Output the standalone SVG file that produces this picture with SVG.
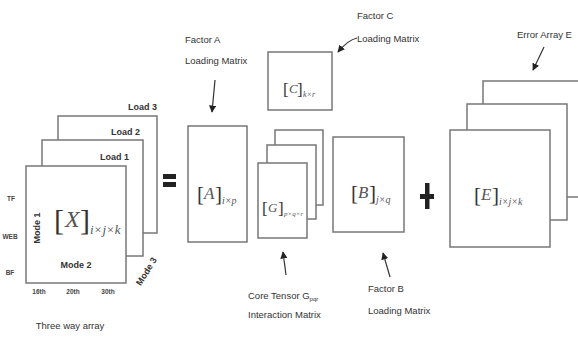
<svg xmlns="http://www.w3.org/2000/svg" width="578" height="346" viewBox="0 0 578 346">
<defs>
<style>
.box{fill:#fff;stroke:#777;stroke-width:1.5}
.lbl{font-family:"Liberation Sans",Arial,sans-serif;font-size:9.5px;fill:#333}
.tick{font-family:"Liberation Sans",Arial,sans-serif;font-size:6.5px;font-weight:bold;fill:#444}
.bold{font-family:"Liberation Sans",Arial,sans-serif;font-size:9px;font-weight:bold;fill:#333}
.m{font-family:"Liberation Serif","Times New Roman",serif;fill:#333}
.mi{font-family:"Liberation Serif","Times New Roman",serif;font-style:italic;fill:#555}
.arr{stroke:#333;stroke-width:1.2;fill:none;marker-end:url(#ah)}
</style>
<marker id="ah" viewBox="0 0 10 10" refX="9" refY="5" markerWidth="6" markerHeight="6" orient="auto-start-reverse">
<path d="M0,0 L10,5 L0,10 z" fill="#222"/>
</marker>
</defs>
<rect width="578" height="346" fill="#fff"/>

<g id="tensor-x">
<rect class="box" x="58" y="116" width="99" height="117"/>
<rect class="box" x="42" y="140" width="101" height="116"/>
<rect class="box" x="26" y="166" width="100" height="117"/>
<text class="bold" x="157" y="110" text-anchor="end">Load 3</text>
<text class="bold" x="140" y="135" text-anchor="end">Load 2</text>
<text class="bold" x="129" y="160" text-anchor="end">Load 1</text>
<text class="m" x="54" y="230" font-size="30">[</text><text class="mi" x="65" y="227" font-size="24">X</text><text class="m" x="80" y="230" font-size="30">]</text>
<text class="mi" x="90" y="234" font-size="13">i×j×k</text>
<text class="bold" x="40" y="228" transform="rotate(-90 40 228)" text-anchor="middle">Mode 1</text>
<text class="bold" x="76" y="268" text-anchor="middle">Mode 2</text>
<text class="bold" x="149" y="273" transform="rotate(-58 149 273)" text-anchor="middle">Mode 3</text>
<text class="tick" x="11" y="201" text-anchor="middle">TF</text>
<text class="tick" x="10" y="239" text-anchor="middle">WEB</text>
<text class="tick" x="10" y="275" text-anchor="middle">BF</text>
<text class="tick" x="39" y="294" text-anchor="middle">16th</text>
<text class="tick" x="73" y="294" text-anchor="middle">20th</text>
<text class="tick" x="108" y="294" text-anchor="middle">30th</text>
<text class="lbl" x="70" y="329" font-size="11" text-anchor="middle">Three way array</text>
</g>

<g id="equals">
<rect x="163" y="174" width="13" height="5" fill="#222"/>
<rect x="163" y="182" width="13" height="5" fill="#222"/>
</g>

<g id="matrix-a">
<rect class="box" x="188" y="126" width="59" height="116"/>
<text class="m" x="197" y="201" font-size="21">[</text><text class="mi" x="204" y="199" font-size="17">A</text><text class="m" x="215" y="201" font-size="21">]</text>
<text class="mi" x="222" y="204" font-size="10">i×p</text>
<text class="lbl" x="185" y="43">Factor A</text>
<text class="lbl" x="185" y="64">Loading Matrix</text>
</g>

<g id="matrix-c">
<rect class="box" x="268" y="52" width="64" height="58"/>
<text class="m" x="283" y="95" font-size="17">[</text><text class="mi" x="289" y="93" font-size="13">C</text><text class="m" x="297" y="95" font-size="17">]</text>
<text class="mi" x="303" y="97" font-size="8">k×r</text>
<text class="lbl" x="357" y="19">Factor C</text>
<text class="lbl" x="357" y="42">Loading Matrix</text>
</g>

<g id="core-g">
<rect class="box" x="275" y="130" width="48" height="75"/>
<rect class="box" x="267" y="145" width="49" height="74"/>
<rect class="box" x="258" y="163" width="49" height="75"/>
<text class="m" x="262" y="214" font-size="17">[</text><text class="mi" x="268" y="212" font-size="13">G</text><text class="m" x="278" y="214" font-size="17">]</text>
<text class="mi" x="284" y="216" font-size="7">p×q×r</text>
<text class="lbl" x="248" y="299">Core Tensor G<tspan font-size="6" dy="2">pqr</tspan></text>
<text class="lbl" x="248" y="318">Interaction Matrix</text>
</g>

<g id="matrix-b">
<rect class="box" x="333" y="137" width="71" height="95"/>
<text class="m" x="351" y="200" font-size="21">[</text><text class="mi" x="358" y="198" font-size="17">B</text><text class="m" x="369" y="200" font-size="21">]</text>
<text class="mi" x="376" y="203" font-size="10">j×q</text>
<text class="lbl" x="368" y="292">Factor B</text>
<text class="lbl" x="368" y="314">Loading Matrix</text>
</g>

<g id="plus">
<rect x="425" y="183" width="4.5" height="26" fill="#222"/>
<rect x="420" y="194" width="14" height="5" fill="#222"/>
</g>

<g id="error-e">
<rect class="box" x="483" y="81" width="100" height="116"/>
<rect class="box" x="467" y="104" width="100" height="116"/>
<rect class="box" x="450" y="130" width="100" height="117"/>
<text class="m" x="474" y="202" font-size="21">[</text><text class="mi" x="481" y="200" font-size="17">E</text><text class="m" x="492" y="202" font-size="21">]</text>
<text class="mi" x="499" y="205" font-size="10">i×j×k</text>
<text class="lbl" x="517" y="38">Error Array E</text>
</g>

<g id="connectors">
<path class="arr" d="M215,80 L212,112"/>
<path class="arr" d="M357,38 Q348,40 338,52"/>
<path class="arr" d="M286,275 L283,252"/>
<path class="arr" d="M390,277 L383,253"/>
<path class="arr" d="M544,47 L533,70"/>
</g>
</svg>
